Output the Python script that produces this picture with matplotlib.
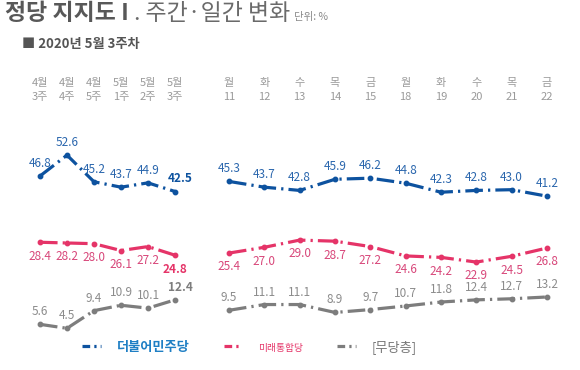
import matplotlib
matplotlib.use("Agg")
import matplotlib.pyplot as plt
from matplotlib.lines import Line2D

plt.rcParams['font.family'] = ['Noto Sans CJK KR', 'DejaVu Sans']

weeks = ['4월\n3주', '4월\n4주', '4월\n5주', '5월\n1주', '5월\n2주', '5월\n3주']
dp_w = [46.8, 52.6, 45.2, 43.7, 44.9, 42.5]
up_w = [28.4, 28.2, 28.0, 26.1, 27.2, 24.8]
ind_w = [5.6, 4.5, 9.4, 10.9, 10.1, 12.4]

days = ['월\n11', '화\n12', '수\n13', '목\n14', '금\n15', '월\n18', '화\n19', '수\n20', '목\n21', '금\n22']
dp_d = [45.3, 43.7, 42.8, 45.9, 46.2, 44.8, 42.3, 42.8, 43.0, 41.2]
up_d = [25.4, 27.0, 29.0, 28.7, 27.2, 24.6, 24.2, 22.9, 24.5, 26.8]
ind_d = [9.5, 11.1, 11.1, 8.9, 9.7, 10.7, 11.8, 12.4, 12.7, 13.2]

party_names = ['더불어민주당', '미래통합당', '[무당층]']

C_DP = '#0d529f'
C_UP = '#e53468'
C_IND = '#7d7d7d'
L_DP = '#2a66ad'
L_UP = '#d8477a'
L_IND = '#8c8c8c'

W, H = 580, 370
fig = plt.figure(figsize=(W / 100, H / 100), dpi=100)

y0_px, y1_px = 344.5, 128.5  # pixel rows for y=0 and y=60
bottom = 1 - y0_px / H
height = (y0_px - y1_px) / H

def px(x):
    return x / W

# weekly axes: points at 40..175 px
ax1 = fig.add_axes([px(40 - 13.5), bottom, px(27 * 6), height])
# daily axes: points at 229..547 px
sp = (547 - 229) / 9
ax2 = fig.add_axes([px(229 - sp / 2), bottom, px(sp * 10), height])

ls = (0, (5.5, 1.6, 0.7, 1.6))
ls_leg = (0, (2.4, 1.3, 0.7, 1.3))

def draw(ax, labels, dp, up, ind, bold_last):
    n = len(labels)
    xs = list(range(n))
    ax.set_xlim(-0.5, n - 0.5)
    ax.set_ylim(0, 60)
    for vals, c, lc, pos in [(dp, C_DP, L_DP, 'above'), (up, C_UP, L_UP, 'below'), (ind, C_IND, L_IND, 'above')]:
        ax.plot(xs, vals, color=c, lw=2.3, linestyle=ls, solid_capstyle='butt',
                dash_capstyle='butt', clip_on=False)
        ax.plot(xs, vals, 'o', color=c, ms=3.2, clip_on=False)
        for i, v in enumerate(vals):
            bold = bold_last and i == n - 1
            dy = 9 if pos == 'above' else -10
            dx = 0
            if bold and pos == 'above':
                dx = 4
            ax.annotate(f'{v:.1f}', (i, v), xytext=(dx, dy), textcoords='offset points',
                        ha='center', va='center', fontsize=8.5,
                        color=c if bold else lc,
                        fontweight='bold' if bold else 'normal')
    ax.set_xticks(xs)
    ax.set_xticklabels(labels)
    ax.xaxis.tick_top()
    ax.tick_params(axis='x', length=0, pad=19, labelsize=8, labelcolor='#9a9a9a')
    for t in ax.get_xticklabels():
        t.set_linespacing(1.55)
    ax.set_yticks([])
    for s in ax.spines.values():
        s.set_visible(False)
    ax.patch.set_alpha(0)

draw(ax1, weeks, dp_w, up_w, ind_w, True)
draw(ax2, days, dp_d, up_d, ind_d, False)

# title
t1 = fig.text(px(5), 1 - 13 / H, '정당 지지도 I', fontsize=16.5, fontweight='bold',
              color='#585858', va='center', ha='left')
a2 = fig.add_artist(plt.Annotation(' . 주간·일간 변화', xy=(1, 0), xycoords=t1,
                                   xytext=(0, 0), textcoords='offset points',
                                   fontsize=16.5, color='#6a6a6a', va='bottom', ha='left'))
a3 = fig.add_artist(plt.Annotation('단위: %', xy=(1, 0), xycoords=a2,
                                   xytext=(3, 2), textcoords='offset points',
                                   fontsize=7.5, color='#8a8a8a', va='bottom', ha='left'))

fig.text(px(22), 1 - 44 / H, '■ 2020년 5월 3주차', fontsize=9.5, fontweight='bold',
         color='#555555', va='center', ha='left')

# legend
handles = [Line2D([], [], color=C_DP, lw=2.3, linestyle=ls_leg, dash_capstyle='butt'),
           Line2D([], [], color=C_UP, lw=2.3, linestyle=ls_leg, dash_capstyle='butt'),
           Line2D([], [], color=C_IND, lw=2.3, linestyle=ls_leg, dash_capstyle='butt')]
leg = fig.legend(handles, party_names, loc='center', bbox_to_anchor=(0.43, 1 - 347 / H),
                 ncol=3, frameon=False, handlelength=1.4, columnspacing=2.6,
                 handletextpad=1.2, fontsize=9.5)
txts = leg.get_texts()
txts[0].set_color('#1f7fc4'); txts[0].set_fontweight('bold')
txts[1].set_color(C_UP); txts[1].set_fontsize(7)
txts[2].set_color('#777777')

fig.savefig('out.png', dpi=100)
